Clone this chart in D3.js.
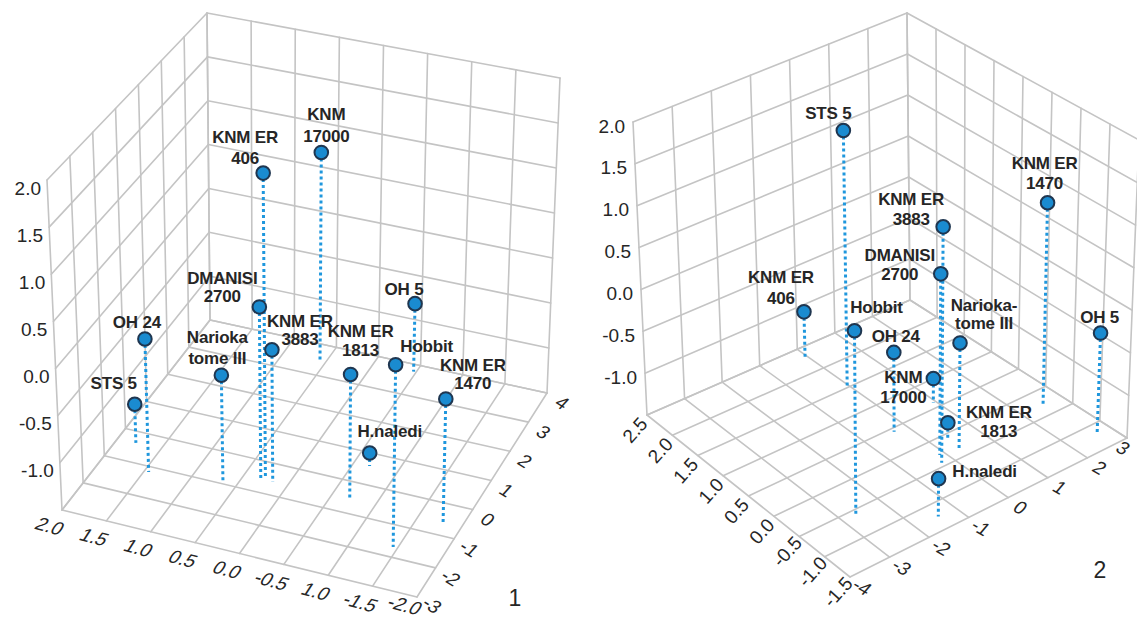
<!DOCTYPE html>
<html>
<head>
<meta charset="utf-8">
<script src="https://cdn.jsdelivr.net/npm/d3@7"></script>
<style>
  body { margin: 0; background: #fff; }
  svg { display: block; }
  text { font-family: "Liberation Sans", Arial, sans-serif; }
</style>
</head>
<body>
<svg id="chart" width="1137" height="622"></svg>
<script>
// ---- Specimens ----
const specimens = ["STS 5", "OH 24", "Narioka tome III", "DMANISI 2700", "KNM ER 406",
  "KNM ER 3883", "KNM 17000", "KNM ER 1813", "Hobbit", "OH 5", "KNM ER 1470", "H.naledi"];

// ---- Left view: scores on the three axes ----
const leftX = [1.79, 1.45, 0.65, 0.30, 0.27, 0.17, 0.56, -0.70, -1.45, -0.47, -1.79, -0.68];
const leftY = [-0.37, -1.18, -0.97, -0.61, -0.51, -0.58, 3.44, -0.52, -1.68, 3.77, -0.61, 0.59];
const leftZ = [-1.08, -0.07, -0.35, 0.35, 1.76, -0.09, 0.85, -0.19, 0.39, -0.74, -0.20, -1.36];

// ---- Right view: scores on the three axes ----
const rightX = [1.51, 0.43, -0.36, -0.29, 2.28, -0.43, 0.60, -0.08, -0.59, -1.21, -0.29, -1.25];
const rightY = [-0.06, -0.32, 0.28, -0.12, -0.10, -0.26, 0.93, 0.37, -2.67, 2.64, 2.53, -1.44];
const rightZ = [1.57, -0.56, -0.24, 0.63, -0.93, 1.27, -1.21, -1.32, 0.64, -0.30, 0.90, -1.06];

// ---- Point label lines ----
const leftLabelLines = [["STS 5"], ["OH 24"], ["Narioka", "tome III"], ["DMANISI", "2700"], ["KNM ER", "406"],
  ["KNM ER", "3883"], ["KNM", "17000"], ["KNM ER", "1813"], ["Hobbit"], ["OH 5"], ["KNM ER", "1470"], ["H.naledi"]];
const rightLabelLines = [["STS 5"], ["OH 24"], ["Narioka-", "tome III"], ["DMANISI", "2700"], ["KNM ER", "406"],
  ["KNM ER", "3883"], ["KNM", "17000"], ["KNM ER", "1813"], ["Hobbit"], ["OH 5"], ["KNM ER", "1470"], ["H.naledi"]];

// ---- Tick values and labels ----
const leftXTicks = [2.0, 1.5, 1.0, 0.5, 0.0, -0.5, -1.0, -1.5, -2.0];
const leftXTickText = ["2.0", "1.5", "1.0", "0.5", "0.0", "-0.5", "1.0", "-1.5", "-2.0"];
const leftYTicks = [-3, -2, -1, 0, 1, 2, 3, 4];
const leftYTickText = ["-3", "-2", "-1", "0", "1", "2", "3", "4"];
const zGridTicks = [-1.5, -1.0, -0.5, 0.0, 0.5, 1.0, 1.5, 2.0];
const zTickText = ["", "-1.0", "-0.5", "0.0", "0.5", "1.0", "1.5", "2.0"];
const rightXTicks = [2.5, 2.0, 1.5, 1.0, 0.5, 0.0, -0.5, -1.0, -1.5];
const rightXTickText = ["2.5", "2.0", "1.5", "1.0", "0.5", "0.0", "-0.5", "-1.0", "-1.5"];
const rightYTicks = [-4, -3, -2, -1, 0, 1, 2, 3];
const rightYTickText = ["-4", "-3", "-2", "-1", "0", "1", "2", "3"];

// ---- Layout: label offsets from each marker (first-line centre) and line spacing ----
const leftLabelLayout = [[-21, -21, 19], [-8, -16, 19], [-4, -38, 21], [-37, -28, 18], [-18, -36, 21],
  [28, -28, 18], [5, -38, 22], [10, -43, 19], [31, -18, 19], [-11, -14, 19], [27, -33, 18], [20, -22, 19]];
const rightLabelLayout = [[-15, -17, 19], [2, -16, 19], [24, -37, 18], [-41, -18, 19], [-23, -34, 21],
  [-32, -27, 20], [-30, -1, 20], [51, -10, 19], [22, -23, 19], [-1, -16, 19], [-3, -39, 20], [46, -7, 19]];

const svg = d3.select("#chart");
const GRID = "#c4c4c4", DOT = "#1f97dd", FILL = "#1a8bd0", RING = "#1f3650", INK = "#262626";
const W = 1137, H = 622;

// Trilinear box projection: screen positions of the eight box corners
function makeProjector(su, sv, sw, c) {
  const bil = (p00, p10, p01, p11, u, v) => [
    p00[0] * (1 - u) * (1 - v) + p10[0] * u * (1 - v) + p01[0] * (1 - u) * v + p11[0] * u * v,
    p00[1] * (1 - u) * (1 - v) + p10[1] * u * (1 - v) + p01[1] * (1 - u) * v + p11[1] * u * v];
  return (a, b, z) => {
    const u = su(a), v = sv(b), w = sw(z);
    const lo = bil(c.b00, c.b10, c.b01, c.b11, u, v);
    const hi = bil(c.t00, c.t10, c.t01, c.t11, u, v);
    return [lo[0] + (hi[0] - lo[0]) * w, lo[1] + (hi[1] - lo[1]) * w];
  };
}

function drawPanel(cfg) {
  const g = svg.append("g");
  const P = cfg.proj;
  const [a0, a1] = cfg.aDom, [b0, b1] = cfg.bDom, [z0, z1] = cfg.zDom;
  const line = (p, q) => g.append("line")
    .attr("x1", p[0]).attr("y1", p[1]).attr("x2", q[0]).attr("y2", q[1])
    .attr("stroke", GRID).attr("stroke-width", 1.6).attr("stroke-linecap", "round");

  // wall at a = a0 (spans b)
  cfg.bTicks.forEach(b => line(P(a0, b, z0), P(a0, b, z1)));
  cfg.zTicks.forEach(z => line(P(a0, b0, z), P(a0, b1, z)));
  // wall at b = b1 (spans a)
  cfg.aTicks.forEach(a => line(P(a, b1, z0), P(a, b1, z1)));
  cfg.zTicks.forEach(z => line(P(a0, b1, z), P(a1, b1, z)));
  // floor
  cfg.aTicks.forEach(a => line(P(a, b0, z0), P(a, b1, z0)));
  cfg.bTicks.forEach(b => line(P(a0, b, z0), P(a1, b, z0)));

  // vertical axis labels
  cfg.zTicks.forEach((z, i) => {
    if (!cfg.zText[i]) return;
    const p = P(a0, b0, z);
    g.append("text").attr("x", p[0] + cfg.zOff[0]).attr("y", p[1] + cfg.zOff[1])
      .attr("text-anchor", "end").attr("dominant-baseline", "central")
      .attr("font-size", 19).attr("fill", INK).text(cfg.zText[i]);
  });
  // floor axis labels (kept inside the drawing area)
  const floorLabels = (ticks, texts, at, off, tf) => ticks.forEach((t, i) => {
    const p = at(t);
    const x = Math.min(p[0] + off[0], W - 14), y = Math.min(p[1] + off[1], H - 17);
    g.append("text")
      .attr("transform", `translate(${x},${y}) ${tf}`)
      .attr("text-anchor", "middle").attr("dominant-baseline", "central")
      .attr("font-size", 19).attr("fill", INK).text(texts[i]);
  });
  floorLabels(cfg.aTicks, cfg.aText, a => P(a, b0, z0), cfg.aOff, cfg.aTf);
  floorLabels(cfg.bTicks, cfg.bText, b => P(a1, b, z0), cfg.bOff, cfg.bTf);

  g.append("text").attr("x", cfg.title[0]).attr("y", cfg.title[1])
    .attr("text-anchor", "middle").attr("dominant-baseline", "central")
    .attr("font-size", 23).attr("fill", INK).text(cfg.title[2]);

  // drop lines
  const idx = d3.range(cfg.xs.length);
  idx.forEach(i => {
    const top = P(cfg.xs[i], cfg.ys[i], cfg.zs[i]);
    const bot = P(cfg.xs[i], cfg.ys[i], z0);
    g.append("line").attr("x1", top[0]).attr("y1", top[1]).attr("x2", bot[0]).attr("y2", bot[1])
      .attr("stroke", DOT).attr("stroke-width", 3).attr("stroke-dasharray", "3,3");
  });
  // markers
  idx.forEach(i => {
    const p = P(cfg.xs[i], cfg.ys[i], cfg.zs[i]);
    g.append("circle").attr("cx", p[0]).attr("cy", p[1]).attr("r", 6.8)
      .attr("fill", FILL).attr("stroke", RING).attr("stroke-width", 2);
  });
  // point labels
  idx.forEach(i => {
    const p = P(cfg.xs[i], cfg.ys[i], cfg.zs[i]);
    const [dx, dy, lh] = cfg.layout[i];
    cfg.lines[i].forEach((s, k) => {
      g.append("text").attr("x", p[0] + dx).attr("y", p[1] + dy + k * lh)
        .attr("text-anchor", "middle").attr("dominant-baseline", "central")
        .attr("font-size", 17).attr("font-weight", "bold").attr("fill", INK)
        .attr("letter-spacing", -0.2).text(s);
    });
  });
}

// ---- Left view ----
const leftProj = makeProjector(
  d3.scaleLinear().domain([2, -2]).range([0, 1]),
  d3.scaleLinear().domain([-3, 4]).range([0, 1]),
  d3.scaleLinear().domain([-1.5, 2]).range([0, 1]),
  { b00: [62, 510], b10: [417, 597], b01: [210, 320], b11: [547, 393],
    t00: [47, 180], t10: [423, 252], t01: [207, 13], t11: [560, 78] });

drawPanel({
  proj: leftProj, aDom: [2, -2], bDom: [-3, 4], zDom: [-1.5, 2],
  aTicks: leftXTicks, aText: leftXTickText, bTicks: leftYTicks, bText: leftYTickText,
  zTicks: zGridTicks, zText: zTickText,
  zOff: [-6, 8], aOff: [-12, 16], aTf: "rotate(15) skewX(-18)",
  bOff: [15, 10], bTf: "rotate(32) skewX(-10)",
  title: [515, 598, "1"],
  xs: leftX, ys: leftY, zs: leftZ, lines: leftLabelLines, layout: leftLabelLayout
});

// ---- Right view ----
const rightProj = makeProjector(
  d3.scaleLinear().domain([2.5, -1.5]).range([0, 1]),
  d3.scaleLinear().domain([-4, 3]).range([0, 1]),
  d3.scaleLinear().domain([-1.5, 2]).range([0, 1]),
  { b00: [647, 415], b10: [850, 577], b01: [910, 300], b11: [1127, 438],
    t00: [633, 122], t10: [848, 272], t01: [907, 13], t11: [1139, 140] });

drawPanel({
  proj: rightProj, aDom: [2.5, -1.5], bDom: [-4, 3], zDom: [-1.5, 2],
  aTicks: rightXTicks, aText: rightXTickText, bTicks: rightYTicks, bText: rightYTickText,
  zTicks: zGridTicks, zText: zTickText,
  zOff: [-8, 4], aOff: [-12, 15], aTf: "rotate(-48)",
  bOff: [12, 10], bTf: "rotate(30) skewX(-10)",
  title: [1100, 570, "2"],
  xs: rightX, ys: rightY, zs: rightZ, lines: rightLabelLines, layout: rightLabelLayout
});
</script>
</body>
</html>
